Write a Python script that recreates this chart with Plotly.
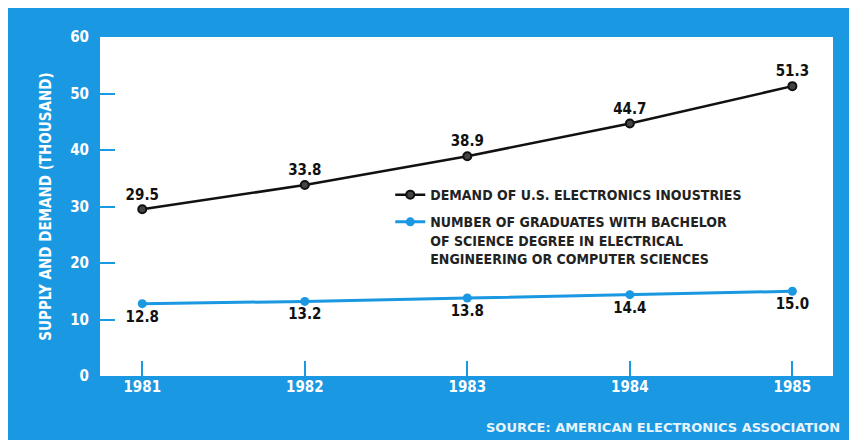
import plotly.graph_objects as go

years = [1981, 1982, 1983, 1984, 1985]
demand = [29.5, 33.8, 38.9, 44.7, 51.3]
graduates = [12.8, 13.2, 13.8, 14.4, 15.0]
demand_labels = ["29.5", "33.8", "38.9", "44.7", "51.3"]
grad_labels = ["12.8", "13.2", "13.8", "14.4", "15.0"]
y_ticks = [0, 10, 20, 30, 40, 50, 60]
y_tick_marks = [10, 20, 30, 40, 50]

BLUE = "#1a98e2"
FONT = "DejaVu Sans Condensed"

fig = go.Figure()
fig.add_trace(go.Scatter(
    x=years, y=demand, mode="lines+markers+text",
    name="DEMAND OF U.S. ELECTRONICS INOUSTRIES",
    line=dict(color="#111111", width=2.5),
    marker=dict(size=8, color="#444444", line=dict(color="#111111", width=2)),
    text=demand_labels, textposition="top center",
    textfont=dict(family=FONT, size=15, color="#111111", weight="bold"),
    legendgroup="a",
))
fig.add_trace(go.Scatter(
    x=years, y=graduates, mode="lines+markers+text",
    name="NUMBER OF GRADUATES WITH BACHELOR<br>OF SCIENCE DEGREE IN ELECTRICAL<br>ENGINEERING OR COMPUTER SCIENCES",
    line=dict(color=BLUE, width=3),
    marker=dict(size=9, color=BLUE),
    text=grad_labels, textposition="bottom center",
    textfont=dict(family=FONT, size=15, color="#111111", weight="bold"),
    legendgroup="b",
))
# invisible trace for the y tick marks only
fig.add_trace(go.Scatter(x=[years[0]], y=[0], yaxis="y2", mode="markers",
                         marker=dict(opacity=0), showlegend=False, hoverinfo="skip"))

fig.update_layout(
    width=849, height=432,
    paper_bgcolor=BLUE, plot_bgcolor="white",
    margin=dict(l=92, r=24, t=29, b=64),
    font=dict(family=FONT, color="white"),
    xaxis=dict(range=[1980.74, 1985.25], tickvals=years, ticks="inside", ticklen=15,
               tickwidth=1.5, tickcolor=BLUE, showgrid=False, zeroline=False, showline=False,
               tickfont=dict(family=FONT, size=15, color="white", weight="bold")),
    yaxis=dict(range=[0, 60], tickvals=y_ticks, ticks="", showgrid=False, zeroline=False,
               showline=False, tickfont=dict(family=FONT, size=15, color="white", weight="bold"),
               ticklabelstandoff=10,
               title=dict(text="SUPPLY AND DEMAND (THOUSAND)", standoff=14,
                          font=dict(family=FONT, size=15, color="white", weight="bold"))),
    yaxis2=dict(range=[0, 60], overlaying="y", side="left", tickvals=y_tick_marks,
                ticks="inside", ticklen=15, tickwidth=1.5, tickcolor=BLUE,
                showticklabels=False, showgrid=False, zeroline=False, showline=False),
    legend=dict(x=0.396, y=0.581, xanchor="left", yanchor="top", bgcolor="rgba(0,0,0,0)",
                font=dict(family=FONT, size=14, color="#222222", weight="bold"), valign="top",
                tracegroupgap=6),
    annotations=[dict(text="SOURCE: AMERICAN ELECTRONICS ASSOCIATION", xref="paper", yref="paper",
                      x=1.012, y=-0.153, xanchor="right", yanchor="middle", showarrow=False,
                      font=dict(family="DejaVu Sans", size=13, color="#e8f4fc", weight="bold"))],
    showlegend=True,
)

fig.write_html("out.html")
